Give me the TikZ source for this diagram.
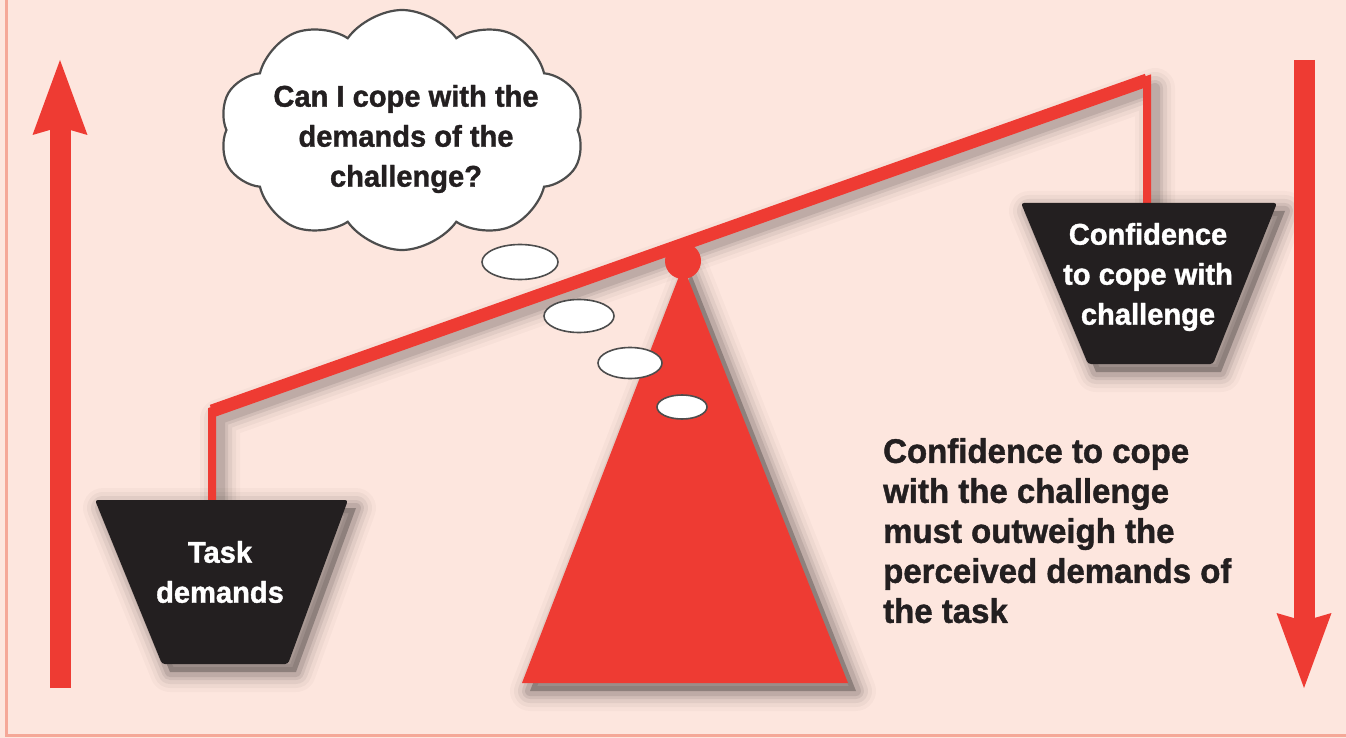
\documentclass[tikz,border=0pt]{standalone}
\usepackage{fontspec}
\setmainfont{Liberation Sans}[FakeStretch=0.97, BoldFeatures={FakeBold=1.2}]
\usepackage{xcolor}
\usetikzlibrary{calc, shapes.geometric, shapes.symbols, arrows.meta, positioning}

\definecolor{scalered}{HTML}{EE3B33}
\definecolor{paper}{HTML}{FDE6DE}
\definecolor{rim}{HTML}{F5A898}
\definecolor{inkblack}{HTML}{231F20}
\definecolor{cloudline}{HTML}{4D4D4D}

\tikzset{
    bigarrow/.style={draw=scalered, line width=21pt,
        -{Stealth[length=75pt, width=55pt, inset=8pt, line width=0pt]}},
    blur/.style={black, opacity=#1, line join=round,
        transform canvas={shift={(8pt,-8pt)}}},
    pantext/.style={text=white, font=\fontsize{30}{40}\selectfont\bfseries,
        align=center, inner sep=0pt},
    bubble/.style={ellipse, draw=cloudline, fill=white, line width=1.6pt}
}

\begin{document}
\begin{tikzpicture}[x=1pt, y=-1pt]

    % =================================================================
    % 1. NỀN VÀ KHUNG
    % =================================================================
    \useasboundingbox (0,0) rectangle (1346,738);
    \fill[paper] (0,0) rectangle (1346,738);
    \draw[rim, line width=3pt] (6,0) -- (6,735) -- (1346,735);

    % Các điểm mốc của cân
    \coordinate (beamL) at (212,411);
    \coordinate (beamR) at (1147,80);
    \coordinate (taskTop) at (212,500);
    \coordinate (confTop) at (1147,203);
    \coordinate (apex) at (683,266);
    \coordinate (baseL) at (522,683);
    \coordinate (baseR) at (848,683);

    % =================================================================
    % 2. BÓNG ĐỔ (mờ dần)
    % =================================================================
    \foreach \w/\o in {40/0.025, 32/0.035, 24/0.05, 16/0.07, 10/0.09} {
        \draw[blur=\o, line width=\w pt] (taskTop) -- (beamL) -- (beamR) -- (confTop);
        \draw[blur=\o, line width=\w pt] (apex) -- (baseL) -- (baseR) -- cycle;
        \draw[blur=\o, line width=\w pt] (95,500) -- (348,500) -- (288,664) -- (162,664) -- cycle;
        \draw[blur=\o, line width=\w pt] (1021,203) -- (1277,203) -- (1213,364) -- (1088,364) -- cycle;
    }
    \fill[blur=0.25] (apex) -- (baseL) -- (baseR) -- cycle;
    \fill[blur=0.25] (95,500) -- (348,500) -- (288,664) -- (162,664) -- cycle;
    \fill[blur=0.25] (1021,203) -- (1277,203) -- (1213,364) -- (1088,364) -- cycle;

    % =================================================================
    % 3. CÂN: CHÂN ĐỠ, ĐÒN CÂN, HAI ĐĨA
    % =================================================================
    \fill[scalered] (apex) -- (baseL) -- (baseR) -- cycle;
    \fill[scalered] (683,261) circle (18pt);

    \draw[scalered, line width=8pt, miter limit=20] (taskTop) -- (beamL) -- (beamR) -- (confTop);
    \draw[scalered, line width=13pt] (beamL) -- (beamR);

    \fill[inkblack, rounded corners=3pt] (95,500) -- (348,500) -- (288,664) -- (162,664) -- cycle;
    \fill[inkblack, rounded corners=3pt] (1021,203) -- (1277,203) -- (1213,364) -- (1088,364) -- cycle;
    \node[pantext] (task) at (220,572) {Task\\demands};
    \node[pantext] (conf) at (1148,277) {Confidence\\to cope with\\challenge};

    % =================================================================
    % 4. ĐÁM MÂY SUY NGHĨ
    % =================================================================
    \node[cloud, cloud puffs=10, cloud puff arc=110, cloud ignores aspect,
          minimum width=365pt, minimum height=240pt, draw=cloudline,
          fill=white, line width=2.2pt] (thought) at (402,130) {};
    \node[align=center, inner sep=0pt, text=inkblack,
          font=\fontsize{30}{40}\selectfont\bfseries] (question) at (406,139)
        {Can I cope with the\\demands of the\\challenge?};

    \node[bubble, minimum width=76pt, minimum height=35pt] (puffA) at (520,262) {};
    \node[bubble, minimum width=70pt, minimum height=33pt] (puffB) at (579,316) {};
    \node[bubble, minimum width=64pt, minimum height=31pt] (puffC) at (630,363) {};
    \node[bubble, minimum width=50pt, minimum height=24pt] (puffD) at (682,407) {};

    % =================================================================
    % 5. MŨI TÊN VÀ CHÚ THÍCH
    % =================================================================
    \coordinate (upFoot) at (60,688);
    \coordinate (upTip) at (60,60);
    \coordinate (downTop) at (1304,60);
    \coordinate (downTip) at (1304,688);
    \draw[bigarrow] (upFoot) -- (upTip);
    \draw[bigarrow] (downTop) -- (downTip);

    \node[anchor=north west, align=left, inner sep=0pt, text=inkblack,
          font=\fontsize{34}{40}\selectfont\bfseries] (verdict) at (883,438)
        {Confidence to cope\\with the challenge\\must outweigh the\\perceived demands of\\the task};

\end{tikzpicture}
\end{document}
